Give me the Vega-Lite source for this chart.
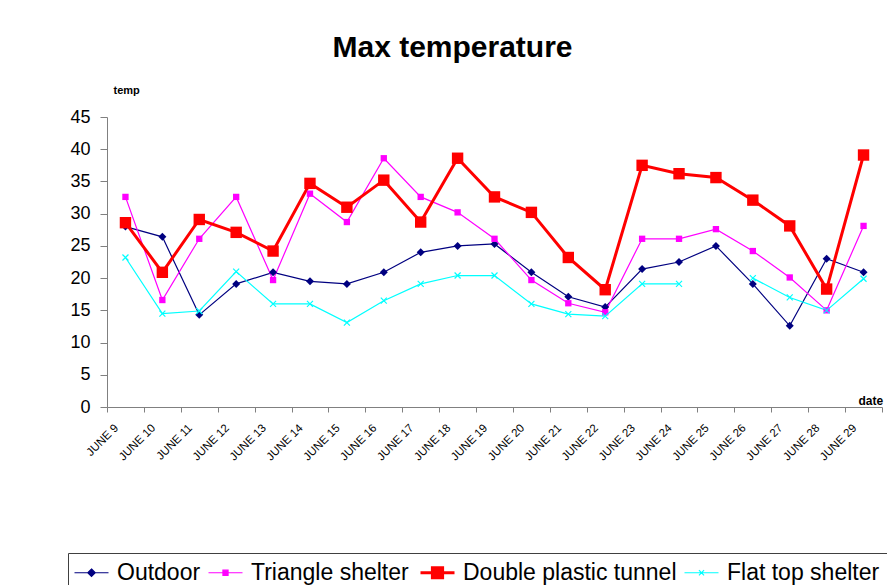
{
  "$schema": "https://vega.github.io/schema/vega-lite/v6.json",
  "width": 775,
  "height": 290,
  "autosize": {"type": "none"},
  "padding": {"left": 107, "top": 117, "right": 5, "bottom": 178},
  "background": "white",
  "config": {"view": {"stroke": null}, "font": "Liberation Sans"},
  "title": {"text": "Max temperature", "fontSize": 30, "fontWeight": "bold", "font": "Liberation Sans", "color": "black", "anchor": "middle", "dx": -42, "offset": 21},
  "resolve": {"axis": {"x": "independent"}},
  "data": {"values": [
    {"day": 9, "series": "Outdoor", "temp": 28.0},
    {"day": 10, "series": "Outdoor", "temp": 26.4},
    {"day": 11, "series": "Outdoor", "temp": 14.3},
    {"day": 12, "series": "Outdoor", "temp": 19.1},
    {"day": 13, "series": "Outdoor", "temp": 20.9},
    {"day": 14, "series": "Outdoor", "temp": 19.5},
    {"day": 15, "series": "Outdoor", "temp": 19.1},
    {"day": 16, "series": "Outdoor", "temp": 20.9},
    {"day": 17, "series": "Outdoor", "temp": 24.0},
    {"day": 18, "series": "Outdoor", "temp": 25.0},
    {"day": 19, "series": "Outdoor", "temp": 25.3},
    {"day": 20, "series": "Outdoor", "temp": 20.9},
    {"day": 21, "series": "Outdoor", "temp": 17.1},
    {"day": 22, "series": "Outdoor", "temp": 15.5},
    {"day": 23, "series": "Outdoor", "temp": 21.4},
    {"day": 24, "series": "Outdoor", "temp": 22.5},
    {"day": 25, "series": "Outdoor", "temp": 25.0},
    {"day": 26, "series": "Outdoor", "temp": 19.1},
    {"day": 27, "series": "Outdoor", "temp": 12.6},
    {"day": 28, "series": "Outdoor", "temp": 23.0},
    {"day": 29, "series": "Outdoor", "temp": 20.9},
    {"day": 9, "series": "Triangle shelter", "temp": 32.6},
    {"day": 10, "series": "Triangle shelter", "temp": 16.6},
    {"day": 11, "series": "Triangle shelter", "temp": 26.1},
    {"day": 12, "series": "Triangle shelter", "temp": 32.6},
    {"day": 13, "series": "Triangle shelter", "temp": 19.7},
    {"day": 14, "series": "Triangle shelter", "temp": 33.1},
    {"day": 15, "series": "Triangle shelter", "temp": 28.7},
    {"day": 16, "series": "Triangle shelter", "temp": 38.6},
    {"day": 17, "series": "Triangle shelter", "temp": 32.6},
    {"day": 18, "series": "Triangle shelter", "temp": 30.2},
    {"day": 19, "series": "Triangle shelter", "temp": 26.1},
    {"day": 20, "series": "Triangle shelter", "temp": 19.7},
    {"day": 21, "series": "Triangle shelter", "temp": 16.1},
    {"day": 22, "series": "Triangle shelter", "temp": 14.7},
    {"day": 23, "series": "Triangle shelter", "temp": 26.1},
    {"day": 24, "series": "Triangle shelter", "temp": 26.1},
    {"day": 25, "series": "Triangle shelter", "temp": 27.6},
    {"day": 26, "series": "Triangle shelter", "temp": 24.2},
    {"day": 27, "series": "Triangle shelter", "temp": 20.1},
    {"day": 28, "series": "Triangle shelter", "temp": 15.0},
    {"day": 29, "series": "Triangle shelter", "temp": 28.1},
    {"day": 9, "series": "Double plastic tunnel", "temp": 28.6},
    {"day": 10, "series": "Double plastic tunnel", "temp": 20.9},
    {"day": 11, "series": "Double plastic tunnel", "temp": 29.1},
    {"day": 12, "series": "Double plastic tunnel", "temp": 27.1},
    {"day": 13, "series": "Double plastic tunnel", "temp": 24.2},
    {"day": 14, "series": "Double plastic tunnel", "temp": 34.7},
    {"day": 15, "series": "Double plastic tunnel", "temp": 31.0},
    {"day": 16, "series": "Double plastic tunnel", "temp": 35.2},
    {"day": 17, "series": "Double plastic tunnel", "temp": 28.7},
    {"day": 18, "series": "Double plastic tunnel", "temp": 38.6},
    {"day": 19, "series": "Double plastic tunnel", "temp": 32.6},
    {"day": 20, "series": "Double plastic tunnel", "temp": 30.2},
    {"day": 21, "series": "Double plastic tunnel", "temp": 23.2},
    {"day": 22, "series": "Double plastic tunnel", "temp": 18.2},
    {"day": 23, "series": "Double plastic tunnel", "temp": 37.5},
    {"day": 24, "series": "Double plastic tunnel", "temp": 36.2},
    {"day": 25, "series": "Double plastic tunnel", "temp": 35.6},
    {"day": 26, "series": "Double plastic tunnel", "temp": 32.1},
    {"day": 27, "series": "Double plastic tunnel", "temp": 28.1},
    {"day": 28, "series": "Double plastic tunnel", "temp": 18.3},
    {"day": 29, "series": "Double plastic tunnel", "temp": 39.1},
    {"day": 9, "series": "Flat top shelter", "temp": 23.2},
    {"day": 10, "series": "Flat top shelter", "temp": 14.5},
    {"day": 11, "series": "Flat top shelter", "temp": 14.9},
    {"day": 12, "series": "Flat top shelter", "temp": 21.0},
    {"day": 13, "series": "Flat top shelter", "temp": 16.0},
    {"day": 14, "series": "Flat top shelter", "temp": 16.0},
    {"day": 15, "series": "Flat top shelter", "temp": 13.1},
    {"day": 16, "series": "Flat top shelter", "temp": 16.5},
    {"day": 17, "series": "Flat top shelter", "temp": 19.1},
    {"day": 18, "series": "Flat top shelter", "temp": 20.4},
    {"day": 19, "series": "Flat top shelter", "temp": 20.4},
    {"day": 20, "series": "Flat top shelter", "temp": 16.0},
    {"day": 21, "series": "Flat top shelter", "temp": 14.4},
    {"day": 22, "series": "Flat top shelter", "temp": 14.1},
    {"day": 23, "series": "Flat top shelter", "temp": 19.1},
    {"day": 24, "series": "Flat top shelter", "temp": 19.1},
    {"day": 25, "series": "Flat top shelter", "temp": null},
    {"day": 26, "series": "Flat top shelter", "temp": 20.0},
    {"day": 27, "series": "Flat top shelter", "temp": 17.0},
    {"day": 28, "series": "Flat top shelter", "temp": 15.0},
    {"day": 29, "series": "Flat top shelter", "temp": 19.9}
  ]},
  "encoding": {
    "y": {
      "field": "temp", "type": "quantitative",
      "scale": {"domain": [0, 45], "nice": false},
      "axis": {
        "values": [0, 5, 10, 15, 20, 25, 30, 35, 40, 45],
        "grid": false, "domainColor": "#808080", "tickColor": "#808080", "tickSize": 7,
        "labelFont": "Liberation Sans", "labelFontSize": 18, "labelColor": "black", "labelPadding": 10,
        "title": "temp", "titleFont": "Liberation Sans", "titleFontSize": 11, "titleFontWeight": "bold", "titleColor": "black",
        "titleAngle": 0, "titleX": 6, "titleY": -24, "titleAlign": "left", "titleBaseline": "alphabetic", "titleAnchor": null
      }
    }
  },
  "layer": [
    {
      "mark": {"type": "line", "invalid": "break-paths-filter-domains"},
      "encoding": {
        "x": {"field": "day", "type": "quantitative",
          "scale": {"domain": [8.5, 29.5], "nice": false, "zero": false},
          "axis": {
            "orient": "bottom",
            "values": [8.5, 9.5, 10.5, 11.5, 12.5, 13.5, 14.5, 15.5, 16.5, 17.5, 18.5, 19.5, 20.5, 21.5, 22.5, 23.5, 24.5, 25.5, 26.5, 27.5, 28.5, 29.5],
            "labels": false, "grid": false, "domainColor": "#808080", "tickColor": "#808080", "tickSize": 5,
            "title": "date", "titleFont": "Liberation Sans", "titleFontSize": 12, "titleFontWeight": "bold", "titleColor": "black",
            "titleX": 751, "titleY": -3, "titleAlign": "left", "titleBaseline": "alphabetic", "titleAnchor": null
          }
        },
        "color": {
          "field": "series", "type": "nominal",
          "scale": {"domain": ["Outdoor", "Triangle shelter", "Double plastic tunnel", "Flat top shelter"], "range": ["#000080", "#FF00FF", "#FF0000", "#00FFFF"]},
          "legend": {
            "orient": "none", "legendX": -39, "legendY": 436, "direction": "horizontal", "title": null,
            "strokeColor": "#404040", "padding": 8, "fillColor": "white",
            "labelFont": "Liberation Sans", "labelFontSize": 23, "labelColor": "black", "labelOffset": 14, "labelLimit": 500, "columnPadding": 5,
            "symbolType": "stroke", "symbolSize": 1156, "symbolStrokeWidth": 1.2, "symbolOffset": 4,
            "encode": {"symbols": {"update": {
              "shape": {"signal": "datum.value === 'Outdoor' ? 'M-1,0H1M0,-0.22L0.22,0L0,0.22L-0.22,0Z' : datum.value === 'Triangle shelter' ? 'M-1,0H1M-0.15,-0.15H0.15V0.15H-0.15Z' : datum.value === 'Double plastic tunnel' ? 'M-1,0H1M-0.3,-0.3H0.3V0.3H-0.3Z' : 'M-1,0H1M-0.15,-0.15L0.15,0.15M-0.15,0.15L0.15,-0.15'"},
              "fill": {"signal": "datum.value === 'Outdoor' ? '#000080' : datum.value === 'Triangle shelter' ? '#FF00FF' : datum.value === 'Double plastic tunnel' ? '#FF0000' : 'transparent'"},
              "strokeWidth": {"signal": "datum.value === 'Double plastic tunnel' ? 3 : 1.2"},
              "opacity": {"value": 1}
            }}}
          }
        },
        "strokeWidth": {"condition": {"test": "datum.series === 'Double plastic tunnel'", "value": 3}, "value": 1.2}
      }
    },
    {
      "transform": [{"filter": "datum.series === 'Outdoor'"}],
      "mark": {"type": "point", "shape": "diamond", "filled": true, "color": "#000080", "size": 64, "opacity": 1},
      "encoding": {
        "x": {"field": "day", "type": "quantitative",
          "axis": {
            "orient": "bottom",
            "values": [9, 10, 11, 12, 13, 14, 15, 16, 17, 18, 19, 20, 21, 22, 23, 24, 25, 26, 27, 28, 29],
            "ticks": false, "domain": false, "grid": false, "title": null, "labelOverlap": false,
            "labelExpr": "'JUNE ' + datum.value", "labelAngle": -45, "labelAlign": "right", "labelBaseline": "middle",
            "labelFont": "Liberation Sans", "labelFontSize": 11.5, "labelColor": "black", "labelPadding": 19, "labelOffset": -9
          }
        }
      }
    },
    {
      "transform": [{"filter": "datum.series === 'Triangle shelter'"}],
      "mark": {"type": "point", "shape": "square", "filled": true, "color": "#FF00FF", "size": 40, "opacity": 1},
      "encoding": {"x": {"field": "day", "type": "quantitative", "axis": null}}
    },
    {
      "transform": [{"filter": "datum.series === 'Double plastic tunnel'"}],
      "mark": {"type": "point", "shape": "square", "filled": true, "color": "#FF0000", "size": 130, "opacity": 1},
      "encoding": {"x": {"field": "day", "type": "quantitative", "axis": null}}
    },
    {
      "transform": [{"filter": "datum.series === 'Flat top shelter' && datum.temp != null"}],
      "mark": {"type": "point", "shape": "M-1,-1L1,1M-1,1L1,-1", "filled": false, "stroke": "#00FFFF", "strokeWidth": 1.2, "size": 36, "opacity": 1},
      "encoding": {"x": {"field": "day", "type": "quantitative", "axis": null}}
    }
  ]
}
